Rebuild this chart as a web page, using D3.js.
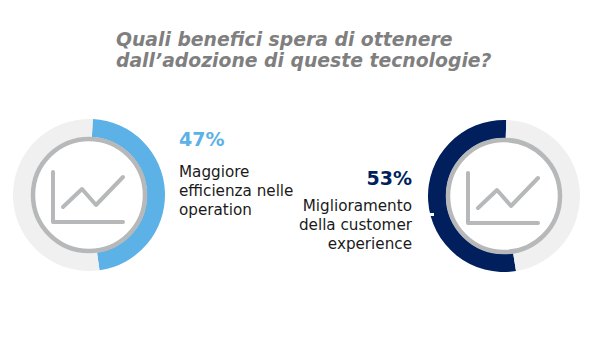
<!DOCTYPE html>
<html>
<head>
<meta charset="utf-8">
<script src="https://cdn.jsdelivr.net/npm/d3@7"></script>
<style>
  body { margin: 0; background: #fff; }
  text { font-family: "DejaVu Sans", sans-serif; }
</style>
</head>
<body>
<div id="chart"></div>
<script>
  // Data ////////////////////////////////////////////////////////////////////
  const titleLines = ['Quali benefici spera di ottenere', 'dall’adozione di queste tecnologie?'];
  const percentages = [47, 53];
  const labelLines = [
    ['Maggiore', 'efficienza nelle', 'operation'],
    ['Miglioramento', 'della customer', 'experience']
  ];
  const colours = ['#5cb1e6', '#001f5c'];

  // Icon drawn in its own small grid, same for both donuts
  const iconAxis = [[-36, -23], [-36, 27], [34, 27]];
  const iconTrend = [[-26, 12], [-7, -6], [7, 10], [34, -18]];

  // Chart ///////////////////////////////////////////////////////////////////
  const width = 600, height = 360;
  const outerRadius = 76, innerRadius = 58;

  const svg = d3.select('#chart').append('svg')
    .attr('width', width)
    .attr('height', height)
    .style('display', 'block');

  svg.append('text')
    .attr('fill', '#7f7f7f')
    .attr('font-size', 18.8)
    .attr('font-weight', 'bold')
    .attr('font-style', 'italic')
    .selectAll('tspan')
    .data(titleLines)
    .enter()
    .append('tspan')
    .attr('x', 116)
    .attr('y', (d, i) => 46 + i * 21)
    .text(d => d);

  const arc = d3.arc().innerRadius(innerRadius).outerRadius(outerRadius);
  const iconLine = d3.line();

  // One donut per value, the second one runs anticlockwise from the top.
  // Both start a little past twelve o'clock, as in the picture
  const donuts = [
    {cx: 89, cy: 195, direction: 1, start: 0.05},
    {cx: 504, cy: 196, direction: -1, start: 0.03}
  ];

  donuts.forEach((donut, i) => {
    const g = svg.append('g')
      .attr('transform', 'translate(' + donut.cx + ',' + donut.cy + ')');

    const pie = d3.pie().sort(null)
      .startAngle(donut.start)
      .endAngle(donut.start + donut.direction * 2 * Math.PI);

    g.selectAll('path.slice')
      .data(pie([percentages[i], 100 - percentages[i]]))
      .enter()
      .append('path')
      .attr('class', 'slice')
      .attr('d', arc)
      .attr('fill', (d, j) => j === 0 ? colours[i] : '#f0f0f1');

    g.append('circle')
      .attr('r', innerRadius - 2)
      .attr('fill', '#fff')
      .attr('stroke', '#b6b8b9')
      .attr('stroke-width', 4.5);

    g.selectAll('path.icon')
      .data([iconAxis, iconTrend])
      .enter()
      .append('path')
      .attr('class', 'icon')
      .attr('d', iconLine)
      .attr('fill', 'none')
      .attr('stroke', '#b6b8b9')
      .attr('stroke-width', 4)
      .attr('stroke-linecap', 'round')
      .attr('stroke-linejoin', 'round');
  });

  // Small white nick in the dark ring
  svg.append('rect')
    .attr('x', 428)
    .attr('y', 213)
    .attr('width', 6)
    .attr('height', 3)
    .attr('fill', '#fff');

  // Left labels are start anchored, right ones end anchored
  const labelLayout = [
    {x: 179, valueY: 146, firstLine: 177, anchor: 'start'},
    {x: 412, valueY: 185, firstLine: 211, anchor: 'end'}
  ];

  labelLayout.forEach((layout, i) => {
    svg.append('text')
      .attr('x', layout.x)
      .attr('y', layout.valueY)
      .attr('text-anchor', layout.anchor)
      .attr('fill', colours[i])
      .attr('font-size', 19)
      .attr('font-weight', 'bold')
      .text(percentages[i] + '%');

    svg.selectAll('text.label' + i)
      .data(labelLines[i])
      .enter()
      .append('text')
      .attr('class', 'label' + i)
      .attr('x', layout.x)
      .attr('y', (d, j) => layout.firstLine + j * 19)
      .attr('text-anchor', layout.anchor)
      .attr('fill', '#1a1a1a')
      .attr('font-size', 15.2)
      .text(d => d);
  });
</script>
</body>
</html>
